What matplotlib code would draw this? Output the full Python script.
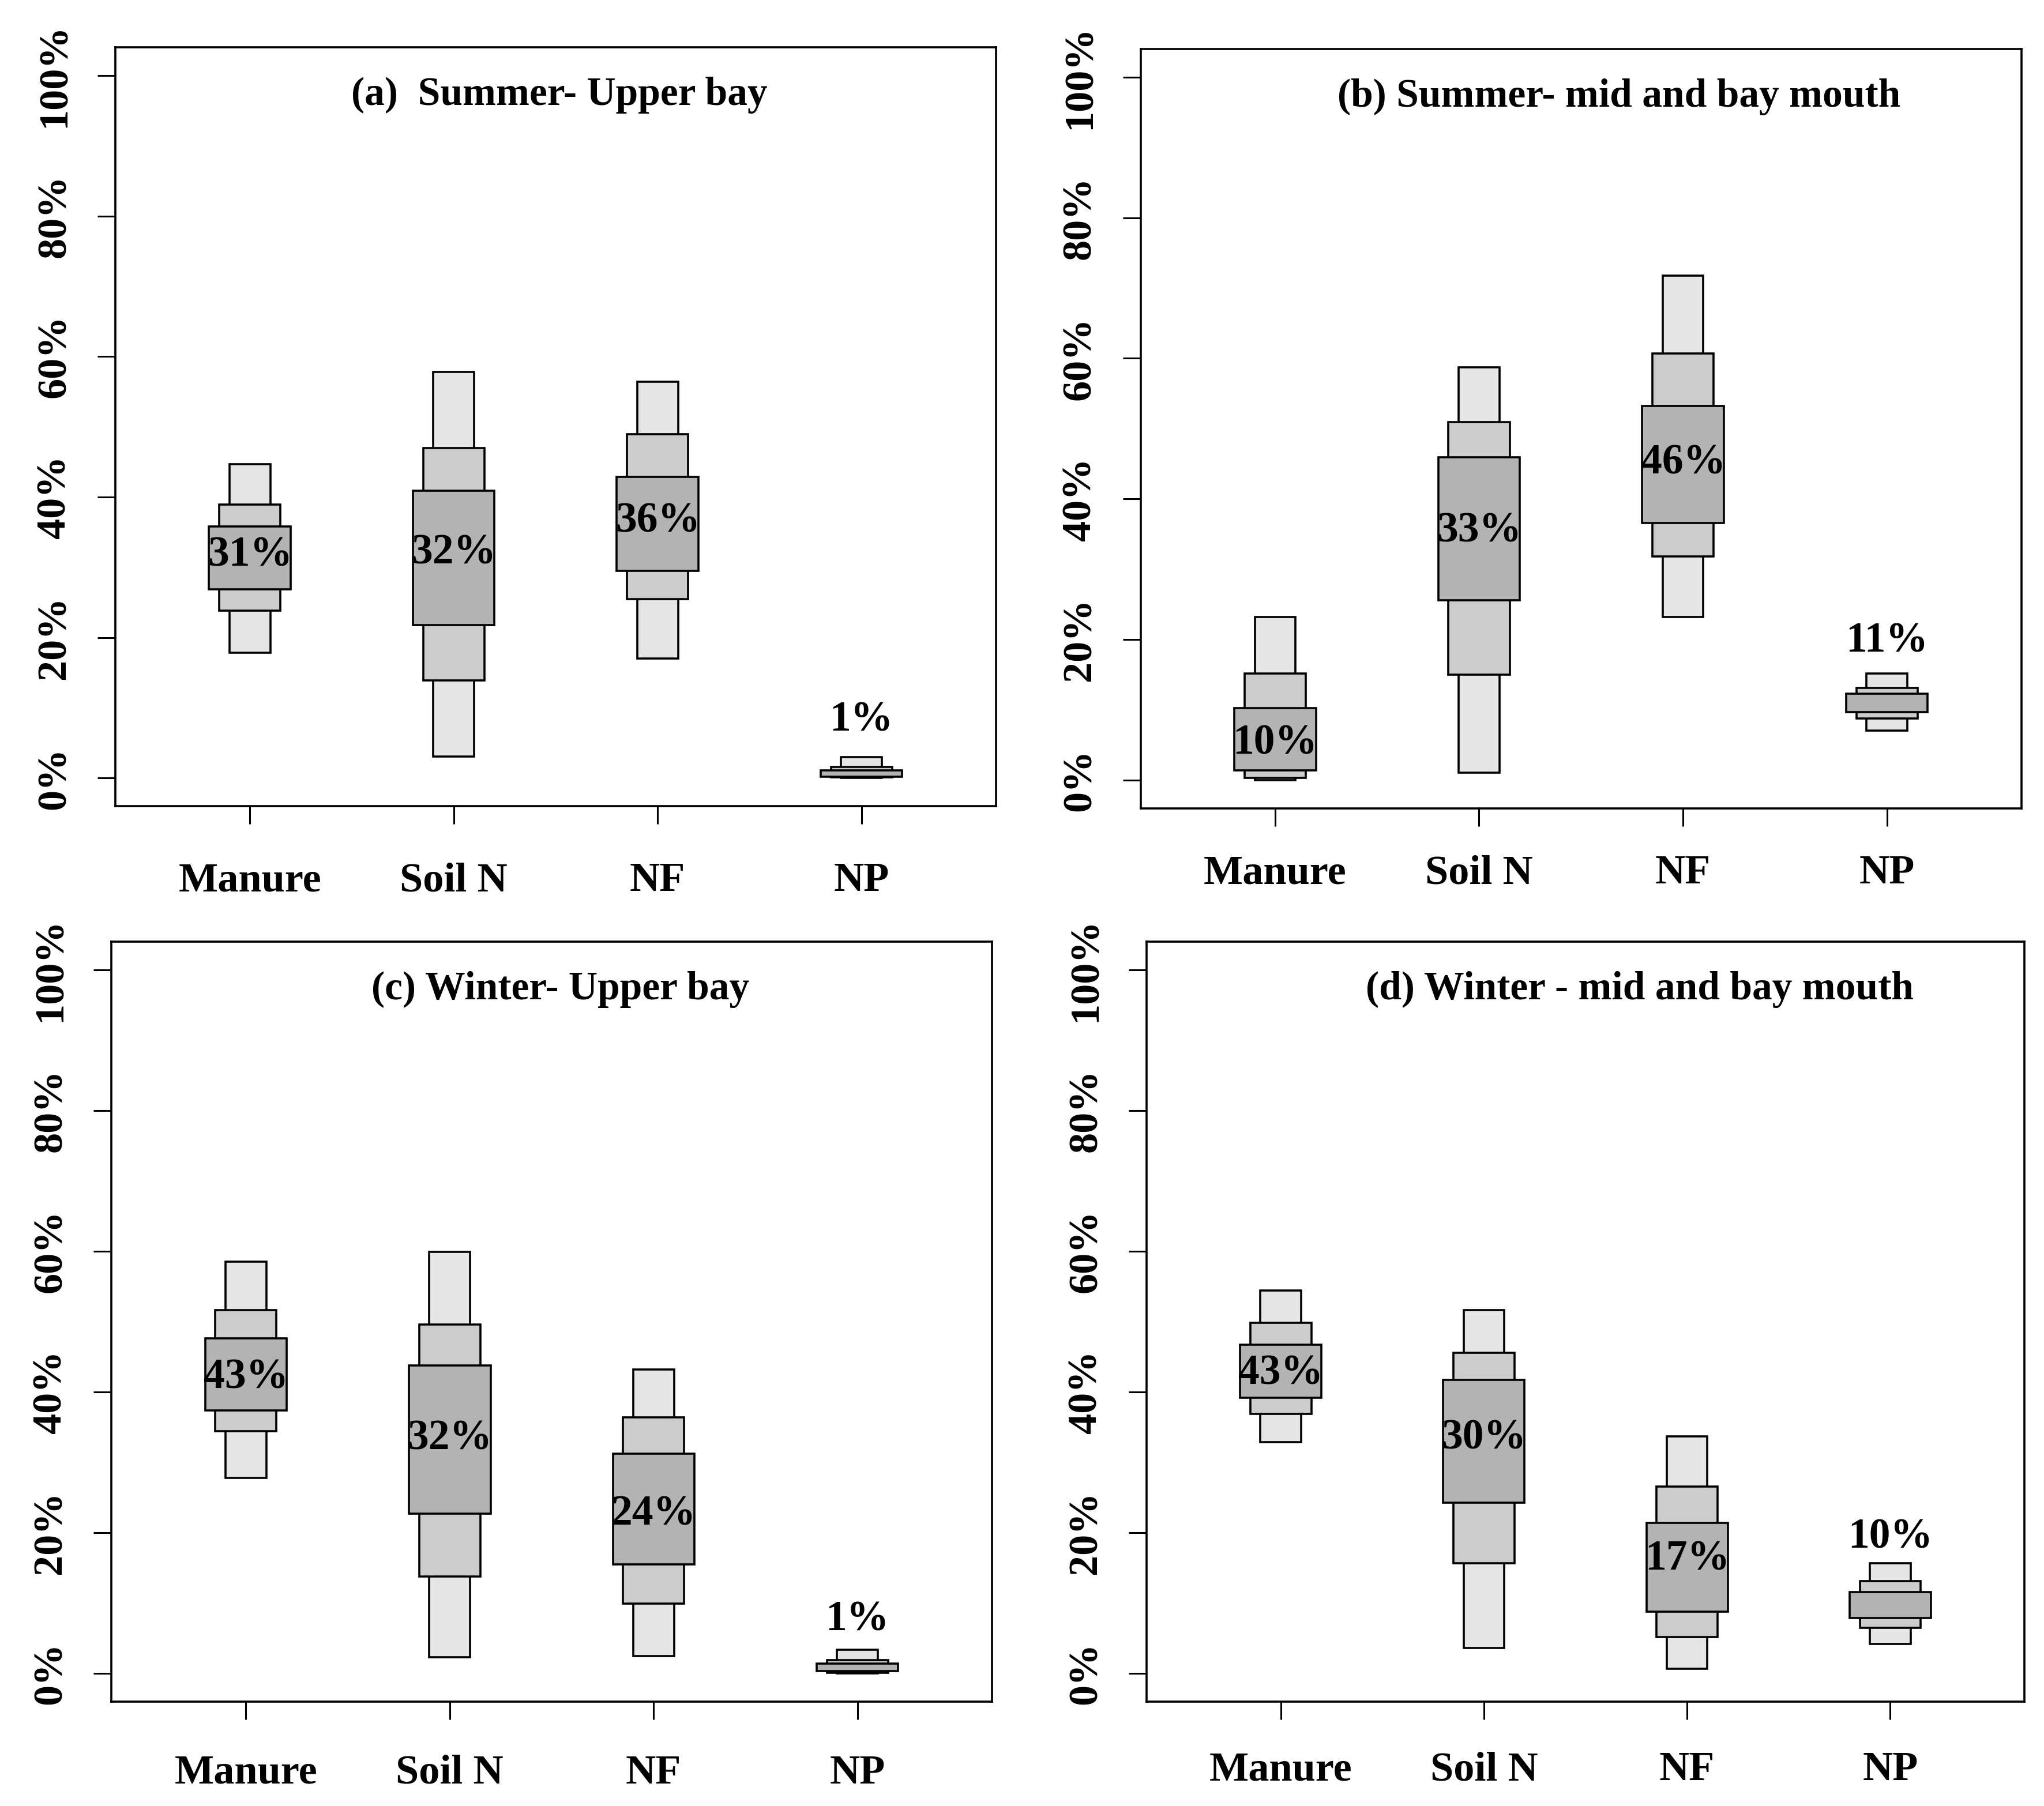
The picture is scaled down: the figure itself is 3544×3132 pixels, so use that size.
import matplotlib
matplotlib.use('Agg')
import matplotlib.pyplot as plt
import numpy as np

# letter-value boxes for the four sources (% of total)
categories = ['Manure', 'Soil N', 'NF', 'NP']

# (a) Summer - upper bay
a_outer_lo = [17.8, 3.1, 17.0, 0.0]
a_outer_hi = [44.7, 57.8, 56.4, 3.0]
a_mid_lo = [23.8, 13.9, 25.5, 0.1]
a_mid_hi = [38.9, 47.0, 48.9, 1.6]
a_inner_lo = [26.9, 21.8, 29.5, 0.2]
a_inner_hi = [35.8, 40.9, 42.9, 1.1]
a_labels = ['31%', '32%', '36%', '1%']
a_label_y = [31.7, 32.0, 36.5, 8.2]

# (b) Summer - mid and bay mouth
b_outer_lo = [0.0, 1.1, 23.2, 7.1]
b_outer_hi = [23.2, 58.7, 71.8, 15.2]
b_mid_lo = [0.3, 15.0, 31.8, 8.8]
b_mid_hi = [15.2, 50.9, 60.7, 13.1]
b_inner_lo = [1.4, 25.6, 36.6, 9.7]
b_inner_hi = [10.3, 45.9, 53.2, 12.3]
b_labels = ['10%', '33%', '46%', '11%']
b_label_y = [5.2, 35.4, 45.1, 19.7]

# (c) Winter - upper bay
c_outer_lo = [27.8, 2.3, 2.5, 0.0]
c_outer_hi = [58.5, 59.9, 43.2, 3.4]
c_mid_lo = [34.4, 13.8, 9.9, 0.1]
c_mid_hi = [51.6, 49.6, 36.4, 1.9]
c_inner_lo = [37.4, 22.7, 15.5, 0.3]
c_inner_hi = [47.6, 43.8, 31.2, 1.4]
c_labels = ['43%', '32%', '24%', '1%']
c_label_y = [42.0, 33.3, 22.6, 7.6]

# (d) Winter - mid and bay mouth
d_outer_lo = [32.9, 3.6, 0.7, 4.2]
d_outer_hi = [54.4, 51.6, 33.7, 15.7]
d_mid_lo = [36.9, 15.7, 5.2, 6.5]
d_mid_hi = [49.8, 45.6, 26.6, 13.1]
d_inner_lo = [39.2, 24.3, 8.8, 7.9]
d_inner_hi = [46.7, 41.7, 21.4, 11.6]
d_labels = ['43%', '30%', '17%', '10%']
d_label_y = [42.6, 33.4, 16.2, 19.3]

titles = ['(a)  Summer- Upper bay',
          '(b) Summer- mid and bay mouth',
          '(c) Winter- Upper bay',
          '(d) Winter - mid and bay mouth']

panels = [
    (a_outer_lo, a_outer_hi, a_mid_lo, a_mid_hi, a_inner_lo, a_inner_hi, a_labels, a_label_y),
    (b_outer_lo, b_outer_hi, b_mid_lo, b_mid_hi, b_inner_lo, b_inner_hi, b_labels, b_label_y),
    (c_outer_lo, c_outer_hi, c_mid_lo, c_mid_hi, c_inner_lo, c_inner_hi, c_labels, c_label_y),
    (d_outer_lo, d_outer_hi, d_mid_lo, d_mid_hi, d_inner_lo, d_inner_hi, d_labels, d_label_y),
]

# axes rectangles in figure fractions
rects = [[0.0564, 0.5536, 0.4309, 0.4202],
         [0.5580, 0.5524, 0.4310, 0.4205],
         [0.0545, 0.0578, 0.4308, 0.4208],
         [0.5610, 0.0578, 0.4294, 0.4208]]
title_x = [0.504, 0.543, 0.51, 0.562]
xlab_pad = [48, 36, 44, 40]

plt.rcParams['font.family'] = 'Liberation Serif'
plt.rcParams['font.weight'] = 'bold'

fig = plt.figure(figsize=(35.44, 31.32), dpi=100)

x = np.arange(1, 5)
light, mid, dark = '#e6e6e6', '#cccccc', '#b3b3b3'

for rect, tx, pad, title, p in zip(rects, title_x, xlab_pad, titles, panels):
    olo, ohi, mlo, mhi, ilo, ihi, labels, label_y = p
    ax = fig.add_axes(rect)

    olo, ohi = np.array(olo), np.array(ohi)
    mlo, mhi = np.array(mlo), np.array(mhi)
    ilo, ihi = np.array(ilo), np.array(ihi)

    ax.bar(x, ohi - olo, bottom=olo, width=0.2, color=light,
           edgecolor='black', linewidth=2.6, zorder=2)
    ax.bar(x, mhi - mlo, bottom=mlo, width=0.3, color=mid,
           edgecolor='black', linewidth=2.6, zorder=3)
    ax.bar(x, ihi - ilo, bottom=ilo, width=0.4, color=dark,
           edgecolor='black', linewidth=2.6, zorder=4)

    for xi, lab, ly in zip(x, labels, label_y):
        ax.text(xi, ly, lab, ha='center', va='center', fontsize=53,
                fontweight='bold', zorder=5)

    ax.text(tx, 0.937, title, transform=ax.transAxes, ha='center',
            va='center', fontsize=50, fontweight='bold')

    ax.set_xlim(0.34, 4.66)
    ax.set_ylim(-4, 104)
    ax.set_xticks(x)
    ax.set_xticklabels(categories, fontsize=52, fontweight='bold')
    ax.set_yticks([0, 20, 40, 60, 80, 100])
    ax.set_yticklabels(['0%', '20%', '40%', '60%', '80%', '100%'],
                       rotation=90, va='center', fontsize=52,
                       fontweight='bold')
    ax.tick_params(axis='x', length=22, width=2.2, pad=pad)
    ax.tick_params(axis='y', length=22, width=2.2, pad=30)
    for s in ax.spines.values():
        s.set_linewidth(2.6)

fig.savefig('out.png', dpi=100, facecolor='white')
